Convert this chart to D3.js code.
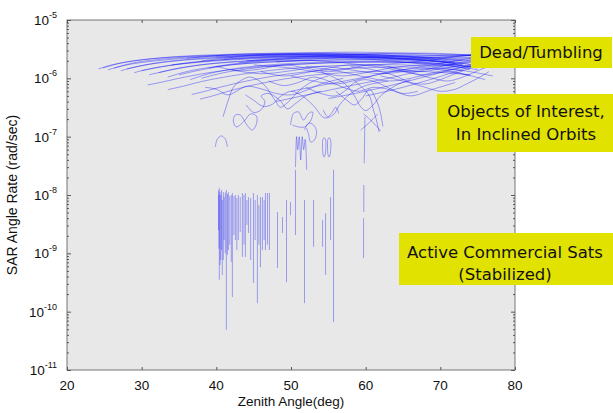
<!DOCTYPE html>
<html><head><meta charset="utf-8">
<script src="https://cdn.jsdelivr.net/npm/d3@7"></script>
<style>body{margin:0;background:#fff;} svg{display:block}</style>
</head><body><svg id="c" width="613" height="413"></svg>
<script>
// ---------------- data ----------------
const xDomain = [20, 80];
const yDomain = [1e-11, 1e-5];
const xTicks = [20, 30, 40, 50, 60, 70, 80];
const yTickExps = [-11, -10, -9, -8, -7, -6, -5];
const xTitle = "Zenith Angle(deg)";
const yTitle = "SAR Angle Rate (rad/sec)";

// Dead / tumbling tracks: [zenith deg, rate rad/s]
const bandTracks = [
  [[24.2,1.45e-6],[26,1.7e-6],[29,2.0e-6],[34,2.3e-6],[42,2.5e-6],[52,2.55e-6],[60,2.4e-6],[67,2.1e-6],[72,1.8e-6]],
  [[24.8,1.5e-6],[27,1.8e-6],[31,2.15e-6],[37,2.45e-6],[46,2.65e-6],[56,2.7e-6],[64,2.6e-6],[71,2.45e-6],[76,2.5e-6]],
  [[25.5,1.4e-6],[28,1.7e-6],[32,2.0e-6],[38,2.3e-6],[47,2.5e-6],[57,2.5e-6],[66,2.3e-6],[73,2.0e-6]],
  [[26.3,1.5e-6],[29,1.85e-6],[33,2.15e-6],[40,2.45e-6],[50,2.6e-6],[60,2.55e-6],[68,2.45e-6],[75,2.6e-6],[79,2.7e-6]],
  [[27.2,1.35e-6],[30,1.65e-6],[34,1.95e-6],[41,2.25e-6],[50,2.4e-6],[59,2.35e-6],[67,2.1e-6],[72,1.85e-6]],
  [[28,1.45e-6],[31,1.75e-6],[35,2.05e-6],[42,2.35e-6],[52,2.5e-6],[62,2.45e-6],[70,2.3e-6],[76,2.2e-6]],
  [[29,1.25e-6],[31.5,1.5e-6],[36,1.8e-6],[43,2.1e-6],[52,2.3e-6],[61,2.3e-6],[68,2.1e-6],[73,1.7e-6]],
  [[30,1.35e-6],[33,1.6e-6],[37,1.9e-6],[44,2.2e-6],[54,2.4e-6],[64,2.35e-6],[72,2.2e-6],[77,2.4e-6]],
  [[31,1.15e-6],[34,1.4e-6],[38,1.7e-6],[45,2.0e-6],[54,2.2e-6],[63,2.15e-6],[70,1.9e-6],[74,1.55e-6]],
  [[32.3,1.25e-6],[35,1.5e-6],[39.5,1.8e-6],[47,2.1e-6],[56,2.25e-6],[65,2.2e-6],[72,2.05e-6],[77,2.2e-6]],
  [[33.5,1.05e-6],[36,1.3e-6],[40,1.6e-6],[47,1.9e-6],[56,2.05e-6],[65,2.0e-6],[71,1.7e-6],[74,1.4e-6]],
  [[35,1.15e-6],[38,1.4e-6],[42,1.7e-6],[49,1.95e-6],[58,2.1e-6],[67,2.05e-6],[73,1.9e-6],[77.5,2.0e-6]],
  [[36.5,9.5e-7],[39,1.2e-6],[43,1.5e-6],[50,1.8e-6],[59,1.95e-6],[67,1.85e-6],[72,1.6e-6]],
  [[30.8,7.7e-7],[32.5,8.5e-7],[35,1.0e-6],[39,1.25e-6],[45,1.55e-6],[53,1.8e-6],[62,1.9e-6],[70,1.8e-6],[75,1.5e-6]],
  [[33.5,6.4e-7],[35.5,7.3e-7],[38,8.8e-7],[42,1.1e-6],[48,1.4e-6],[56,1.65e-6],[65,1.7e-6],[72,1.55e-6],[77,1.8e-6]],
  [[36.7,5.3e-7],[38.5,6.0e-7],[41,7.3e-7],[45,9.5e-7],[51,1.25e-6],[59,1.5e-6],[67,1.55e-6],[73,1.35e-6]],
  [[37.8,4.4e-7],[39.5,5.0e-7],[42,6.2e-7],[46,8.2e-7],[52,1.1e-6],[60,1.3e-6],[68,1.3e-6],[74,1.15e-6]],
  [[38,1.0e-6],[41,1.25e-6],[46,1.55e-6],[53,1.8e-6],[62,1.9e-6],[70,1.75e-6],[75,1.6e-6]],
  [[40,2.3e-6],[48,2.6e-6],[56,2.8e-6],[63,2.75e-6],[69,2.6e-6],[74,2.5e-6],[78,2.6e-6]],
  [[44,2.0e-6],[52,2.35e-6],[60,2.6e-6],[67,2.7e-6],[72,2.6e-6],[76,2.3e-6]],
  [[48,1.9e-6],[55,2.2e-6],[62,2.35e-6],[68,2.2e-6],[72,1.9e-6],[76,1.55e-6]],
  [[42,1.4e-6],[46,1.2e-6],[50,1.35e-6],[54,1.6e-6],[58,1.4e-6],[62,1.2e-6],[66,1.35e-6],[70,1.5e-6],[74,1.3e-6],[77,1.1e-6]],
  [[45,1.7e-6],[50,1.5e-6],[54,1.25e-6],[57,1.1e-6],[60,1.25e-6],[64,1.55e-6],[68,1.7e-6],[72,1.6e-6],[75,1.4e-6]],
  [[50,1.1e-6],[53,9e-7],[56,8e-7],[59,9.5e-7],[62,1.2e-6],[66,1.45e-6],[70,1.4e-6],[73,1.2e-6],[76,9.5e-7]],
  [[52,1.6e-6],[56,1.35e-6],[60,1.05e-6],[63,9e-7],[66,1.0e-6],[69,1.25e-6],[72,1.45e-6],[75,1.7e-6]],
  [[40.9,2.2e-7],[41.6,4.2e-7],[42.3,7.1e-7],[43.5,9.5e-7],[44.6,1.05e-6],[46.3,8e-7],[47.7,4.5e-7],[48.6,3.2e-7],[49.5,3.8e-7],[51.3,6.5e-7],[53,9e-7],[55,1.1e-6]],
  [[43.9,5.2e-7],[45,4.2e-7],[46.3,3.3e-7],[47.5,3.6e-7],[48.5,4.8e-7],[50,6e-7],[51.5,5e-7],[53,3.4e-7],[54.5,2.1e-7],[55.7,2.4e-7],[56.5,3.5e-7],[58,5.5e-7],[60,7.5e-7],[63,9e-7]],
  [[38.5,7e-7],[40,6.5e-7],[41.5,5.2e-7],[42.5,5.8e-7],[44,7.3e-7],[46,6.6e-7],[48,5.5e-7],[50,5.2e-7],[52,6.2e-7],[54,8e-7],[57,1.0e-6]],
  [[54,1.3e-6],[56,1.0e-6],[57.5,7.5e-7],[58.5,5e-7],[59.3,3.3e-7],[60,2.8e-7],[61,3.5e-7],[62,5e-7],[64,7.5e-7],[66,9.5e-7]],
  [[56,6e-7],[57.5,4.2e-7],[58.5,3.5e-7],[59.5,4.5e-7],[60.5,6.5e-7],[61.5,4e-7],[62,2.5e-7],[62.3,1.5e-7]],
  [[62,1.1e-6],[65,9e-7],[68,7e-7],[70,6e-7],[72,6.5e-7],[73.5,8e-7],[75,1.0e-6],[76.5,1.3e-6]],
  [[58,1.6e-6],[61,1.4e-6],[64,1.1e-6],[66,8.5e-7],[68,8e-7],[70,9.5e-7],[72,1.2e-6],[74,1.5e-6],[76,1.9e-6],[78,2.3e-6]],
  [[47,9e-7],[49,7.5e-7],[51,8.5e-7],[53,1.05e-6],[55,9e-7],[57,7e-7],[59,6e-7],[61,7e-7],[63,6.5e-7],[65,5.5e-7],[67,6e-7]],
  [[58.5,9e-7],[59.5,7e-7],[60.5,5e-7],[61,3e-7],[61.5,1.8e-7],[61.8,1.2e-7]],
  [[50,6e-7],[55,8e-7],[60,1.05e-6],[65,1.4e-6],[70,1.8e-6],[74,2.2e-6],[77,2.4e-6]],
  [[48,4e-7],[53,5.5e-7],[58,7.5e-7],[63,1.0e-6],[68,1.4e-6],[73,1.9e-6],[76.5,2.3e-6]],
  [[55,4.5e-7],[60,6e-7],[65,8.5e-7],[70,1.25e-6],[74,1.7e-6],[77,2.1e-6]],
  [[60,5e-7],[64,6.5e-7],[68,9e-7],[72,1.3e-6],[75,1.75e-6],[78,2.3e-6]],
  [[40,1.6e-6],[43,1.35e-6],[46,1.45e-6],[49,1.7e-6],[52,1.5e-6],[55,1.3e-6],[58,1.5e-6],[61,1.7e-6],[64,1.5e-6],[67,1.3e-6],[70,1.45e-6],[73,1.7e-6]],
  [[44,3.5e-7],[45,2.6e-7],[46,2.9e-7],[46.5,4e-7],[46,5e-7],[47,5.5e-7],[48.5,4.2e-7],[49.5,3e-7],[50.5,3.6e-7],[52,5e-7],[54,6e-7]],
  [[36,2.2e-6],[42,2.55e-6],[48,2.7e-6],[55,2.65e-6],[62,2.5e-6],[68,2.3e-6],[73,2.4e-6],[77,2.6e-6]],
  [[38,2.0e-6],[44,2.4e-6],[50,2.55e-6],[57,2.6e-6],[64,2.45e-6],[70,2.2e-6],[74,2.0e-6]],
  [[41,2.15e-6],[47,2.35e-6],[53,2.45e-6],[60,2.3e-6],[66,2.15e-6],[71,2.35e-6],[75,2.55e-6]],
  [[34,1.7e-6],[40,2.05e-6],[47,2.3e-6],[55,2.35e-6],[63,2.2e-6],[69,1.95e-6],[74,1.75e-6]],
  [[43,1.85e-6],[49,2.15e-6],[55,2.3e-6],[61,2.1e-6],[66,1.85e-6],[70,1.65e-6],[74,1.9e-6],[77,2.2e-6]],
  [[46,1.3e-6],[49,1.1e-6],[52,1.25e-6],[55,1.5e-6],[58,1.7e-6],[62,1.55e-6],[65,1.3e-6],[68,1.15e-6],[71,1.3e-6],[74,1.1e-6]],
  [[52,7e-7],[54,5.5e-7],[56,5e-7],[57.5,6.5e-7],[58.5,8.5e-7],[60,9.5e-7],[62,8e-7],[64,6e-7],[66,5e-7],[69,6.5e-7],[72,8.5e-7]],
  [[63,1.6e-6],[66,1.25e-6],[69,1.0e-6],[71,9e-7],[73,1.05e-6],[75,1.35e-6],[77,1.7e-6]],
  [[39,1.5e-6],[42,1.75e-6],[46,1.95e-6],[51,2.05e-6],[56,1.9e-6],[60,1.7e-6],[64,1.8e-6],[68,2.0e-6],[72,2.35e-6],[76,2.6e-6]]
];

// Objects of interest (inclined orbits): loops and short tracks
const loopTracks = [
  [[43.76,1.86e-7],[43.22,2.35e-7],[42.55,2.35e-7],[42.28,1.86e-7],[42.68,1.47e-7],[43.76,1.86e-7],[44.56,2.45e-7],[45.37,2.26e-7],[45.37,1.65e-7],[44.83,1.3e-7],[44.3,1.47e-7],[43.76,1.86e-7]],
  [[39.87,6.7e-8],[40.13,9.1e-8],[40.67,1.03e-7],[41.2,9.1e-8],[41.48,6.7e-8]],
  [[49.93,1.58e-7],[50.34,2.5e-7],[51.01,2.65e-7],[51.68,1.93e-7],[52.35,2.5e-7],[52.89,2.65e-7],[52.62,1.86e-7],[51.81,1.47e-7],[51.01,1.47e-7],[50.2,1.58e-7]],
  [[51.81,1.3e-7],[52.35,1.71e-7],[53.02,1.58e-7],[53.42,1.24e-7],[53.15,8.8e-8],[52.62,8.1e-8],[52.35,1.1e-7],[52.08,1.41e-7]],
  [[50.6,3e-8],[50.75,1.0e-7],[50.9,6e-8],[51.1,1.0e-7],[51.3,4e-8],[51.5,1.0e-7],[51.7,6e-8],[51.9,9e-8],[52.1,2.7e-8]],
  [[54.23,8.8e-8],[54.28,5e-8],[54.43,4.5e-8],[54.58,5e-8],[54.63,8.8e-8],[54.43,9.6e-8],[54.23,8.8e-8]],
  [[54.9,8.8e-8],[54.95,5e-8],[55.1,4.5e-8],[55.25,5e-8],[55.3,8.8e-8],[55.1,9.6e-8],[54.9,8.8e-8]],
  [[59.33,1.3e-7],[60.5,1.75e-7],[61.61,2.45e-7]],
  [[59.73,2.45e-7],[60.9,1.8e-7],[62.01,1.25e-7]],
  [[59.9,2.2e-7],[59.87,1.2e-7],[59.84,6e-8],[59.8,3.5e-8]],
  [[54.3,2.9e-7],[54.9,2.2e-7],[55.5,2.6e-7],[56,3.2e-7],[56.4,2.5e-7]]
];

// Active commercial sats: vertical excursions [zenith deg, top rate, bottom rate]
const spikes = [
  [40.3,1.2e-8,2.5e-9],[40.35,1.0e-8,1.2e-9],
  [40.4,1.32e-8,3.5e-10],[40.5,1.12e-8,6.3e-10],[40.6,1.0e-8,7.7e-10],[40.7,1.22e-8,1.14e-9],
  [40.8,8.2e-9,4.25e-10],[40.94,1.12e-8,7.7e-10],[41.05,9.2e-9,1.69e-9],[41.2,1.1e-8,1.0e-9],
  [41.34,1.22e-8,4.9e-11],[41.5,1.04e-8,9.4e-10],[41.61,1.12e-8,1.14e-9],[41.8,9.6e-9,1.4e-9],
  [42.0,1.0e-8,7.1e-10],[42.15,1.08e-8,1.78e-10],[42.35,9.6e-9,2.06e-9],[42.55,1.0e-8,1.69e-9],
  [42.75,8.9e-9,1.14e-9],[42.95,1.0e-8,1.69e-9],[43.2,9.2e-9,2.3e-9],[43.49,1.08e-8,8.7e-10],
  [43.7,1.0e-8,1.4e-9],[43.89,1.08e-8,8.7e-10],[44.1,8.2e-9,3.06e-9],[44.3,9.2e-9,2.23e-9],
  [44.6,8.9e-9,7.7e-10],[44.97,1.08e-8,3.1e-10],[45.2,8.2e-9,1.69e-9],[45.5,1.0e-8,1.4e-10],
  [45.7,6.7e-9,1.4e-9],[45.91,9.2e-9,5.8e-10],[46.17,9.2e-9,1.14e-9],[46.4,8.2e-9,1.69e-9],
  [46.58,1.08e-8,1.14e-9],[46.85,1.08e-8,1.4e-9],[47.11,1.08e-8,1.14e-9],[48.19,5.1e-9,5.6e-10],
  [48.86,4.2e-9,2.23e-9],[49.4,8.2e-9,3.2e-10],[49.93,7.6e-9,4.5e-9],[50.6,2.7e-8,2.06e-9],
  [51.81,8.2e-9,1.4e-10],[53.02,8.2e-9,1.29e-9],[54.23,3.7e-9,1.29e-9],[54.63,4.9e-9,4.25e-10],
  [55.3,9.2e-9,1.69e-9],[55.7,2.7e-8,6.6e-11],[59.75,1.48e-8,5.1e-9],[59.72,4.0e-9,8.3e-10]
];

const notes = [
  {lines: ["Dead/Tumbling"]},
  {lines: ["Objects of Interest,", "In Inclined Orbits"]},
  {lines: ["Active Commercial Sats", "(Stabilized)"]}
];

// ---------------- layout ----------------
const W = 613, H = 413;
const plot = {left: 67, right: 515, top: 20, bottom: 370};
const svg = d3.select("#c");
const x = d3.scaleLinear().domain(xDomain).range([plot.left, plot.right]);
const y = d3.scaleLog().domain(yDomain).range([plot.bottom, plot.top]);
const tickFont = "'Liberation Sans', Arial, Helvetica, sans-serif";

svg.append("rect").attr("width", W).attr("height", H).attr("fill", "#fff");
svg.append("rect").attr("x", plot.left).attr("y", plot.top)
  .attr("width", plot.right - plot.left).attr("height", plot.bottom - plot.top)
  .attr("fill", "#e8e8e8");

svg.append("clipPath").attr("id", "pc").append("rect")
  .attr("x", plot.left).attr("y", plot.top)
  .attr("width", plot.right - plot.left).attr("height", plot.bottom - plot.top);

const g = svg.append("g").attr("clip-path", "url(#pc)");
const line = d3.line().x(d => x(d[0])).y(d => y(d[1])).curve(d3.curveCatmullRom.alpha(0.5));
const stroke = "#0000ff";

g.selectAll("path.band").data(bandTracks).join("path").attr("class", "band")
  .attr("d", line).attr("fill", "none").attr("stroke", stroke)
  .attr("stroke-opacity", 0.4).attr("stroke-width", 0.9);
g.selectAll("path.loop").data(loopTracks).join("path").attr("class", "loop")
  .attr("d", line).attr("fill", "none").attr("stroke", stroke)
  .attr("stroke-opacity", 0.38).attr("stroke-width", 0.9);
g.selectAll("line.spike").data(spikes).join("line").attr("class", "spike")
  .attr("x1", d => x(d[0])).attr("x2", d => x(d[0]))
  .attr("y1", d => y(d[1])).attr("y2", d => y(d[2]))
  .attr("stroke", stroke).attr("stroke-opacity", 0.38).attr("stroke-width", 0.9);

// axes (MATLAB style, inward ticks on all sides)
const majors = yTickExps.map(e => Math.pow(10, e));
const minors = [];
yTickExps.slice(0, -1).forEach(e => { for (let k = 2; k <= 9; k++) minors.push(k * Math.pow(10, e)); });

function styleAxis(sel) {
  sel.select(".domain").remove();
  sel.selectAll(".tick line").attr("stroke", "#333").attr("stroke-width", 0.8);
  sel.selectAll(".tick text").remove();
}
svg.append("g").attr("transform", `translate(0,${plot.bottom})`)
  .call(d3.axisBottom(x).tickValues(xTicks).tickSize(-3)).call(styleAxis);
svg.append("g").attr("transform", `translate(0,${plot.top})`)
  .call(d3.axisTop(x).tickValues(xTicks).tickSize(-3)).call(styleAxis);
svg.append("g").attr("transform", `translate(${plot.left},0)`)
  .call(d3.axisLeft(y).tickValues(majors).tickSize(-4)).call(styleAxis);
svg.append("g").attr("transform", `translate(${plot.left},0)`)
  .call(d3.axisLeft(y).tickValues(minors).tickSize(-2)).call(styleAxis);
svg.append("g").attr("transform", `translate(${plot.right},0)`)
  .call(d3.axisRight(y).tickValues(majors).tickSize(-4)).call(styleAxis);
svg.append("g").attr("transform", `translate(${plot.right},0)`)
  .call(d3.axisRight(y).tickValues(minors).tickSize(-2)).call(styleAxis);

svg.append("rect").attr("x", plot.left).attr("y", plot.top)
  .attr("width", plot.right - plot.left).attr("height", plot.bottom - plot.top)
  .attr("fill", "none").attr("stroke", "#555").attr("stroke-width", 0.8);

// tick labels
svg.selectAll("text.xt").data(xTicks).join("text").attr("class", "xt")
  .attr("x", d => x(d)).attr("y", plot.bottom + 20).attr("text-anchor", "middle")
  .attr("font-family", tickFont).attr("font-size", 13.5).attr("fill", "#111").text(d => d);

const yl = svg.selectAll("text.yt").data(yTickExps).join("text").attr("class", "yt")
  .attr("x", plot.left - 10).attr("y", d => y(Math.pow(10, d)) + 5).attr("text-anchor", "end")
  .attr("font-family", tickFont).attr("fill", "#111");
yl.append("tspan").attr("font-size", 13.5).text("10");
yl.append("tspan").attr("font-size", 9).attr("dy", -7).text(d => "-" + Math.abs(d));

svg.append("text").attr("x", (plot.left + plot.right) / 2).attr("y", 406)
  .attr("text-anchor", "middle").attr("font-family", tickFont).attr("font-size", 13.5)
  .attr("fill", "#111").text(xTitle);
svg.append("text").attr("transform", `translate(17,${(plot.top + plot.bottom) / 2}) rotate(-90)`)
  .attr("text-anchor", "middle").attr("font-family", tickFont).attr("font-size", 14)
  .attr("fill", "#111").text(yTitle);

// annotation boxes
const boxes = [
  {x: 471, y: 37, w: 141, h: 31, cx: 541, ty: [58]},
  {x: 437, y: 94, w: 176, h: 58, cx: 526, ty: [117, 140]},
  {x: 399, y: 233, w: 214, h: 52, cx: 505, ty: [258, 280]}
];
const noteFont = "'DejaVu Sans', Verdana, sans-serif";
notes.forEach((n, i) => {
  const b = boxes[i];
  svg.append("rect").attr("x", b.x).attr("y", b.y).attr("width", b.w).attr("height", b.h)
    .attr("fill", "#e2e200");
  n.lines.forEach((t, j) => {
    svg.append("text").attr("x", b.cx).attr("y", b.ty[j]).attr("text-anchor", "middle")
      .attr("font-family", noteFont)
      .attr("font-size", 16.5).attr("fill", "#111").text(t);
  });
});
</script></body></html>
